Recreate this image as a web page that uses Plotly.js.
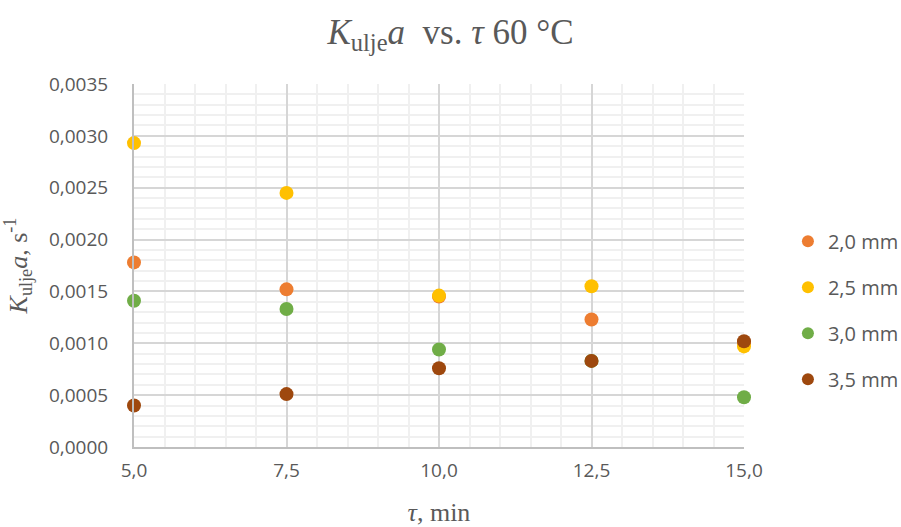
<!DOCTYPE html>
<html>
<head>
<meta charset="utf-8">
<script src="https://cdn.plot.ly/plotly-3.0.1.min.js"></script>
<style>html,body{margin:0;padding:0;background:#fff;}#chart{width:901px;height:527px;}</style>
</head>
<body>
<div id="chart"></div>
<script>
const tau = [5.0, 7.5, 10.0, 12.5, 15.0];
const seriesNames = ['2,0 mm', '2,5 mm', '3,0 mm', '3,5 mm'];
const k20 = [0.00178, 0.00152, 0.00145, 0.00123, 0.00100];
const k25 = [0.00293, 0.00245, 0.00146, 0.00155, 0.00097];
const k30 = [0.00141, 0.00133, 0.00094, 0.00083, 0.00048];
const k35 = [0.00040, 0.00051, 0.00076, 0.00083, 0.00102];
const colors = ['#ED7D31', '#FFC000', '#70AD47', '#9E480E'];

// minor grid positions (between major gridlines)
const xMinor = [];
for (let i = 0; i <= 20; i++) { if (i % 5 !== 0) xMinor.push(5 + i * 0.5); }
const yMinor = [];
for (let i = 0; i <= 35; i++) { if (i % 5 !== 0) yMinor.push(i * 0.0001); }

const series = [k20, k25, k30, k35];
const traces = series.map((ys, i) => ({
  type: 'scatter', mode: 'markers', x: tau, y: ys, name: seriesNames[i], legendgroup: 'g' + i,
  marker: {color: colors[i], size: 14}, cliponaxis: false
}));

const serif = 'Liberation Serif, Times New Roman, serif';
const layout = {
  width: 901, height: 527,
  margin: {l: 134, r: 157, t: 84, b: 80, autoexpand: false},
  paper_bgcolor: '#fff', plot_bgcolor: '#fff',
  separators: ', ',
  font: {family: 'Open Sans, Liberation Sans, sans-serif', color: '#595959', size: 19},
  title: {text: '<i>K</i><sub>ulje</sub><i>a</i>  vs. <i>τ</i> 60 °C', x: 0.5, xanchor: 'center', y: 0.94, yanchor: 'middle',
          font: {family: serif, size: 35, color: '#595959'}},
  xaxis: {range: [5, 15], dtick: 2.5, tick0: 5, tickformat: '.1f', showgrid: true, gridcolor: '#d6d6d6', gridwidth: 2,
          minor: {tickmode: 'array', tickvals: xMinor, showgrid: true, gridcolor: '#f0f0f0', gridwidth: 2, ticks: ''},
          showline: true, linecolor: '#bfbfbf', linewidth: 2, zeroline: false, ticks: '', ticklen: 0,
          ticklabelstandoff: 5,
          tickfont: {size: 19, color: '#595959'},
          title: {text: '<i>τ</i>, min', standoff: 22, font: {family: serif, size: 26, color: '#595959'}}},
  yaxis: {range: [0, 0.0035], dtick: 0.0005, tickformat: '.4f', showgrid: true, gridcolor: '#d6d6d6', gridwidth: 2,
          minor: {tickmode: 'array', tickvals: yMinor, showgrid: true, gridcolor: '#f0f0f0', gridwidth: 2, ticks: ''},
          showline: true, linecolor: '#bfbfbf', linewidth: 2, zeroline: false, ticks: '', ticklen: 0,
          ticklabelstandoff: 20,
          tickfont: {size: 19, color: '#595959'},
          title: {text: '<i>K</i><sub>ulje</sub><i>a</i>, s<sup>-1</sup>', standoff: 20, font: {family: serif, size: 26, color: '#595959'}}},
  legend: {x: 1.072, xanchor: 'left', y: 0.377, yanchor: 'middle', font: {size: 20, color: '#595959'}, tracegroupgap: 17, itemsizing: 'constant'},
  showlegend: true
};

Plotly.newPlot('chart', traces, layout, {displayModeBar: false, staticPlot: true});
</script>
</body>
</html>
